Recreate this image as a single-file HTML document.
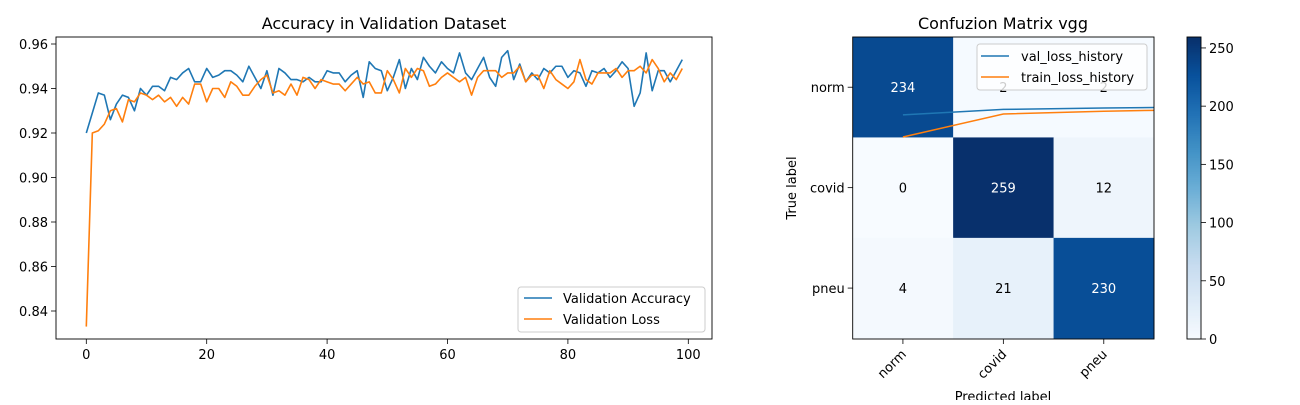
<!DOCTYPE html>
<html><head><meta charset="utf-8"><style>
body{margin:0;background:#fff;width:1300px;height:400px;overflow:hidden;font-family:"Liberation Sans","DejaVu Sans",sans-serif}
svg text{font-family:"DejaVu Sans","Liberation Sans",sans-serif}
</style></head><body>
<svg id="fig" width="1300" height="400" viewBox="0 0 1300 400"></svg>
<script>
const epochs = Array.from({length:100},(_,i)=>i);
const valAccuracy = [0.920,0.929,0.938,0.937,0.926,0.933,0.937,0.936,0.930,0.940,0.937,0.941,0.941,0.939,0.945,0.944,0.947,0.949,0.943,0.943,0.949,0.945,0.946,0.948,0.948,0.946,0.943,0.950,0.945,0.940,0.948,0.937,0.949,0.947,0.944,0.944,0.943,0.945,0.943,0.943,0.948,0.947,0.947,0.943,0.946,0.948,0.936,0.952,0.949,0.948,
0.939,0.945,0.953,0.940,0.949,0.944,0.954,0.950,0.947,0.952,0.949,0.947,0.956,0.947,0.944,0.949,0.954,0.945,0.941,0.954,0.957,0.944,0.951,0.943,0.947,0.944,0.949,0.947,0.950,0.950,0.945,0.948,0.947,0.941,0.948,0.947,0.949,0.945,0.948,0.952,0.949,0.932,0.938,0.956,0.939,0.948,0.948,0.943,0.948,0.953];
const valLoss = [0.833,0.920,0.921,0.924,0.930,0.931,0.925,0.935,0.934,0.938,0.937,0.935,0.937,0.934,0.936,0.932,0.936,0.933,0.942,0.942,0.934,0.940,0.940,0.936,0.943,0.941,0.937,0.937,0.941,0.944,0.946,0.938,0.939,0.937,0.942,0.937,0.945,0.944,0.940,0.944,0.943,0.942,0.942,0.939,0.942,0.945,0.942,0.943,0.938,0.938,
0.948,0.944,0.938,0.949,0.945,0.949,0.948,0.941,0.942,0.945,0.947,0.945,0.943,0.945,0.937,0.945,0.948,0.948,0.948,0.945,0.947,0.947,0.950,0.943,0.946,0.946,0.940,0.948,0.944,0.942,0.940,0.943,0.953,0.944,0.942,0.947,0.947,0.947,0.949,0.945,0.948,0.948,0.950,0.947,0.953,0.949,0.943,0.947,0.944,0.949];
const xTicks = [0,20,40,60,80,100];
const yTicks = [0.84,0.86,0.88,0.90,0.92,0.94,0.96];
const classes = ["norm","covid","pneu"];
const matrix = [[234,2,2],[0,259,12],[4,21,230]];
const cbTicks = [0,50,100,150,200,250];
const valLossHistory = [0.29,0.35,0.365,0.375];
const trainLossHistory = [0.05,0.30,0.33,0.35];

const NS="http://www.w3.org/2000/svg";
const svg=document.getElementById('fig');
function mk(tag,attrs,parent){const e=document.createElementNS(NS,tag);for(const k in attrs)e.setAttribute(k,attrs[k]);(parent||svg).appendChild(e);return e;}
function txt(s,attrs,parent){const e=mk('text',attrs,parent);e.textContent=s;return e;}

// ---- left chart
const L={x0:56,x1:712,y0:37,y1:339};
const xs=v=>86.3+v*6.02;
const ys=v=>44-(v-0.96)/0.02*44.5;
const gL=mk('g',{});


const t1=txt('Accuracy in Validation Dataset',{x:384,y:29,'text-anchor':'middle','font-size':16,fill:'#000'},gL);

xTicks.forEach(v=>{const x=xs(v);mk('line',{x1:x,x2:x,y1:L.y1,y2:L.y1+5,stroke:'#000','stroke-width':0.8},gL);
 const t=txt(String(v),{x:x,y:L.y1+20,'text-anchor':'middle','font-size':13},gL);
 });
yTicks.forEach(v=>{const y=ys(v);mk('line',{x1:L.x0-5,x2:L.x0,y1:y,y2:y,stroke:'#000','stroke-width':0.8},gL);
 const t=txt(v.toFixed(2),{x:L.x0-8,y:y+5,'text-anchor':'end','font-size':13},gL);
 });
function line(data,color,name){const p=mk('polyline',{points:data.map((v,i)=>xs(epochs[i])+','+ys(v)).join(' '),fill:'none',stroke:color,'stroke-width':1.6,'stroke-linejoin':'round'},gL);
 }
line(valAccuracy,'#1f77b4','validation-accuracy-line');
line(valLoss,'#ff7f0e','validation-loss-line');
mk('rect',{x:L.x0,y:L.y0,width:L.x1-L.x0,height:L.y1-L.y0,fill:'none',stroke:'#000','stroke-width':0.9},gL);
const lg=mk('g',{},gL);

mk('rect',{x:518,y:287,width:187,height:45,rx:3,fill:'#fff','fill-opacity':0.8,stroke:'#ccc'},lg);
mk('line',{x1:524,x2:552,y1:298,y2:298,stroke:'#1f77b4','stroke-width':1.6},lg);
txt('Validation Accuracy',{x:563,y:303,'font-size':13},lg);
mk('line',{x1:524,x2:552,y1:319,y2:319,stroke:'#ff7f0e','stroke-width':1.6},lg);
txt('Validation Loss',{x:563,y:324,'font-size':13},lg);

// ---- confusion matrix
const M={x0:852.7,x1:1154,y0:37,y1:339};const cw=(M.x1-M.x0)/3;
const vmax=259.4;
function blues(v){const t=v/vmax;const stops=[[0,[247,251,255]],[0.125,[222,235,247]],[0.25,[198,219,239]],[0.375,[158,202,225]],[0.5,[107,174,214]],[0.625,[66,146,198]],[0.75,[33,113,181]],[0.875,[8,81,156]],[1,[8,48,107]]];
 for(let i=1;i<stops.length;i++){if(t<=stops[i][0]){const a=stops[i-1],b=stops[i];const f=(t-a[0])/(b[0]-a[0]);return 'rgb('+a[1].map((c,k)=>Math.round(c+(b[1][k]-c)*f)).join(',')+')';}}return 'rgb(8,48,107)';}
const gM=mk('g',{});

const t2=txt('Confuzion Matrix vgg',{x:1003,y:29,'text-anchor':'middle','font-size':16},gM);

matrix.forEach((row,r)=>row.forEach((v,c)=>{
 const cell=mk('rect',{x:M.x0+c*cw,y:M.y0+r*cw,width:cw+0.5,height:cw+0.5,fill:blues(v)},gM);
 
 const t=txt(String(v),{x:M.x0+(c+0.5)*cw,y:M.y0+(r+0.5)*cw+5,'text-anchor':'middle','font-size':13,fill:v>vmax/2?'#fff':'#000'},gM);
 }));
// overlaid loss lines (clipped)
mk('clipPath',{id:'mclip'},gM);
mk('rect',{x:M.x0,y:M.y0,width:M.x1-M.x0,height:M.y1-M.y0},document.getElementById('mclip'));
const lx=i=>M.x0+(i+0.5)*cw;
const ly=v=>137-(v-0.05)*92;
function hline(data,color,name){const p=mk('polyline',{points:data.map((v,i)=>lx(i)+','+ly(v)).join(' '),fill:'none',stroke:color,'stroke-width':1.5,'clip-path':'url(#mclip)'},gM);
 }
hline(valLossHistory,'#1f77b4','val-loss-history-line');
hline(trainLossHistory,'#ff7f0e','train-loss-history-line');
mk('rect',{x:M.x0,y:M.y0,width:M.x1-M.x0,height:M.y1-M.y0,fill:'none',stroke:'#000','stroke-width':0.9},gM);
classes.forEach((c,i)=>{const y=M.y0+(i+0.5)*cw;mk('line',{x1:M.x0-5,x2:M.x0,y1:y,y2:y,stroke:'#000','stroke-width':0.8},gM);
 const t=txt(c,{x:M.x0-8,y:y+5,'text-anchor':'end','font-size':13},gM);
 
 const x=M.x0+(i+0.5)*cw;mk('line',{x1:x,x2:x,y1:M.y1,y2:M.y1+5,stroke:'#000','stroke-width':0.8},gM);
 const t2=txt(c,{x:x+4,y:M.y1+16,'text-anchor':'end','font-size':13,transform:'rotate(-45 '+(x+4)+' '+(M.y1+16)+')'},gM);
 });
const ax1=txt('True label',{x:796,y:188,'text-anchor':'middle','font-size':13,transform:'rotate(-90 796 188)'},gM);

const ax2=txt('Predicted label',{x:1003,y:401,'text-anchor':'middle','font-size':13},gM);

const lg2=mk('g',{},gM);

mk('rect',{x:977,y:44,width:170,height:46,rx:3,fill:'#fff','fill-opacity':0.8,stroke:'#ccc'},lg2);
mk('line',{x1:981,x2:1009,y1:56,y2:56,stroke:'#1f77b4','stroke-width':1.6},lg2);
txt('val_loss_history',{x:1021,y:61,'font-size':13},lg2);
mk('line',{x1:981,x2:1009,y1:77,y2:77,stroke:'#ff7f0e','stroke-width':1.6},lg2);
txt('train_loss_history',{x:1021,y:82,'font-size':13},lg2);
// colorbar
const C={x0:1187,x1:1201,y0:37,y1:339};
const gC=mk('g',{});

for(let k=0;k<151;k++){const y0=C.y1-(k+1)*(C.y1-C.y0)/151;mk('rect',{x:C.x0,y:y0,width:C.x1-C.x0,height:(C.y1-C.y0)/151+0.6,fill:blues((k+0.5)/151*vmax)},gC);}
mk('rect',{x:C.x0,y:C.y0,width:C.x1-C.x0,height:C.y1-C.y0,fill:'none',stroke:'#000','stroke-width':0.9},gC);
cbTicks.forEach(v=>{const y=C.y1-v/vmax*(C.y1-C.y0);mk('line',{x1:C.x1,x2:C.x1+5,y1:y,y2:y,stroke:'#000','stroke-width':0.8},gC);
 const t=txt(String(v),{x:C.x1+8,y:y+5,'font-size':13},gC);
 });
</script>
</body></html>
